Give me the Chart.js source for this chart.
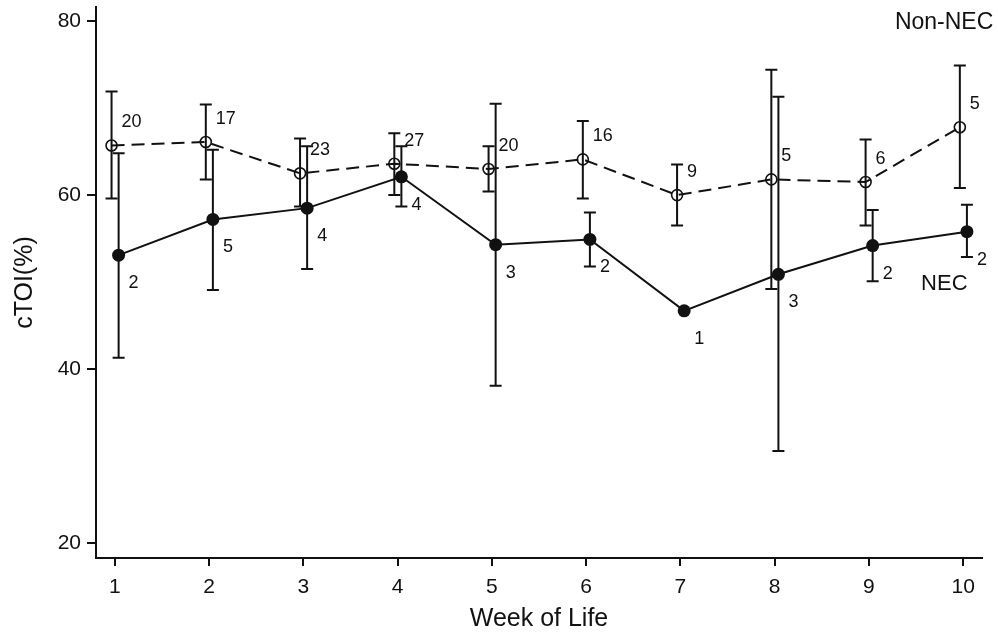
<!DOCTYPE html>
<html>
<head>
<meta charset="utf-8">
<script src="https://cdn.jsdelivr.net/npm/chart.js@4/dist/chart.umd.min.js"></script>
<style>
  html, body { margin: 0; padding: 0; background: #fff; }
  canvas { display: block; }
</style>
</head>
<body>
<canvas id="chart" width="998" height="636"></canvas>
<script>
// cTOI by week of life, NEC vs Non-NEC (mean with range bars, n above/below)
const weeks = [1, 2, 3, 4, 5, 6, 7, 8, 9, 10];
const yTicks = [20, 40, 60, 80];

const nonNecMean = [65.7, 66.1, 62.5, 63.6, 63.0, 64.1, 60.0, 61.8, 61.5, 67.8];
const nonNecHigh = [71.9, 70.4, 66.5, 67.1, 65.6, 68.5, 63.5, 74.4, 66.4, 74.9];
const nonNecLow  = [59.6, 61.8, 58.7, 60.0, 60.4, 59.6, 56.5, 49.2, 56.5, 60.8];
const nonNecN    = [20, 17, 23, 27, 20, 16, 9, 5, 6, 5];

const necMean = [53.1, 57.2, 58.5, 62.1, 54.3, 54.9, 46.7, 50.9, 54.2, 55.8];
const necHigh = [64.8, 65.2, 65.6, 65.6, 70.5, 58.0, null, 71.3, 58.3, 58.9];
const necLow  = [41.3, 49.1, 51.5, 58.7, 38.1, 51.8, null, 30.6, 50.1, 52.9];
const necN    = [2, 5, 4, 4, 3, 2, 1, 3, 2, 2];

const FONT = "'Liberation Sans', Arial, Helvetica, sans-serif";
const INK = '#111';

// small horizontal dodge so the two groups don't overlap
const NON_NEC_SHIFT = -0.035;
const NEC_SHIFT = 0.04;

const nonNecPoints = weeks.map((w, i) => ({ x: w + NON_NEC_SHIFT, y: nonNecMean[i] }));
const necPoints = weeks.map((w, i) => ({ x: w + NEC_SHIFT, y: necMean[i] }));

// range bars drawn behind the lines
const errorBars = {
    id: 'errorBars',
    beforeDatasetsDraw(chart) {
        const { ctx, scales: { x, y } } = chart;
        const groups = [
            { pts: nonNecPoints, lo: nonNecLow, hi: nonNecHigh },
            { pts: necPoints, lo: necLow, hi: necHigh }
        ];
        ctx.save();
        ctx.strokeStyle = INK;
        ctx.lineWidth = 2;
        groups.forEach(g => {
            g.pts.forEach((p, i) => {
                if (g.lo[i] == null || g.hi[i] == null) return;
                const px = x.getPixelForValue(p.x);
                const top = y.getPixelForValue(g.hi[i]);
                const bot = y.getPixelForValue(g.lo[i]);
                ctx.beginPath();
                ctx.moveTo(px, top); ctx.lineTo(px, bot);
                ctx.moveTo(px - 6, top); ctx.lineTo(px + 6, top);
                ctx.moveTo(px - 6, bot); ctx.lineTo(px + 6, bot);
                ctx.stroke();
            });
        });
        ctx.restore();
    }
};

// sample sizes next to each point + series names
const countLabels = {
    id: 'countLabels',
    afterDatasetsDraw(chart) {
        const { ctx, scales: { x, y } } = chart;
        ctx.save();
        ctx.fillStyle = INK;
        ctx.textBaseline = 'middle';
        ctx.textAlign = 'left';
        ctx.font = `18px ${FONT}`;
        nonNecPoints.forEach((p, i) => {
            ctx.fillText(String(nonNecN[i]), x.getPixelForValue(p.x) + 10, y.getPixelForValue(p.y) - 23);
        });
        necPoints.forEach((p, i) => {
            ctx.fillText(String(necN[i]), x.getPixelForValue(p.x) + 10, y.getPixelForValue(p.y) + 28);
        });

        ctx.font = `23px ${FONT}`;
        ctx.textAlign = 'right';
        ctx.fillText('Non-NEC', x.getPixelForValue(10.32), y.getPixelForValue(79.8));
        ctx.font = `22px ${FONT}`;
        ctx.textAlign = 'center';
        ctx.fillText('NEC', x.getPixelForValue(9.8), y.getPixelForValue(49.8));
        ctx.restore();
    }
};

new Chart(document.getElementById('chart'), {
    type: 'line',
    data: {
        datasets: [
            {
                label: 'Non-NEC',
                data: nonNecPoints,
                borderColor: INK,
                borderWidth: 2,
                borderDash: [13, 7],
                pointRadius: 5.5,
                pointBorderWidth: 1.6,
                pointBorderColor: INK,
                pointBackgroundColor: 'rgba(0,0,0,0)',
                tension: 0
            },
            {
                label: 'NEC',
                data: necPoints,
                borderColor: INK,
                borderWidth: 2,
                pointRadius: 6.5,
                pointBorderWidth: 0,
                pointBackgroundColor: INK,
                tension: 0
            }
        ]
    },
    options: {
        responsive: false,
        animation: false,
        devicePixelRatio: 1,
        layout: { padding: { top: 6, right: 16, left: 0, bottom: 0 } },
        plugins: {
            legend: { display: false },
            tooltip: { enabled: false }
        },
        scales: {
            x: {
                type: 'linear',
                min: 0.8,
                max: 10.2,
                afterBuildTicks: s => { s.ticks = weeks.map(v => ({ value: v })); },
                afterFit: s => { s.height = 78; s.paddingLeft = 0; s.paddingRight = 0; },
                ticks: { font: { size: 21, family: FONT }, color: INK, padding: 9, maxRotation: 0 },
                grid: { display: true, drawOnChartArea: false, drawTicks: true, tickLength: 8, color: INK, lineWidth: 2 },
                border: { display: true, color: INK, width: 2 },
                title: { display: true, text: 'Week of Life', color: INK, font: { size: 25, family: FONT }, padding: { top: 0, bottom: 2 } }
            },
            y: {
                min: 18.3,
                max: 81.6,
                afterBuildTicks: s => { s.ticks = yTicks.map(v => ({ value: v })); },
                afterFit: s => { s.width = 96; s.paddingTop = 0; s.paddingBottom = 0; },
                ticks: { font: { size: 21, family: FONT }, color: INK, padding: 6 },
                grid: { display: true, drawOnChartArea: false, drawTicks: true, tickLength: 9, color: INK, lineWidth: 2 },
                border: { display: true, color: INK, width: 2 },
                title: { display: true, text: 'cTOI(%)', color: INK, font: { size: 25, family: FONT }, padding: { top: 10, bottom: 0 } }
            }
        }
    },
    plugins: [errorBars, countLabels]
});
</script>
</body>
</html>
